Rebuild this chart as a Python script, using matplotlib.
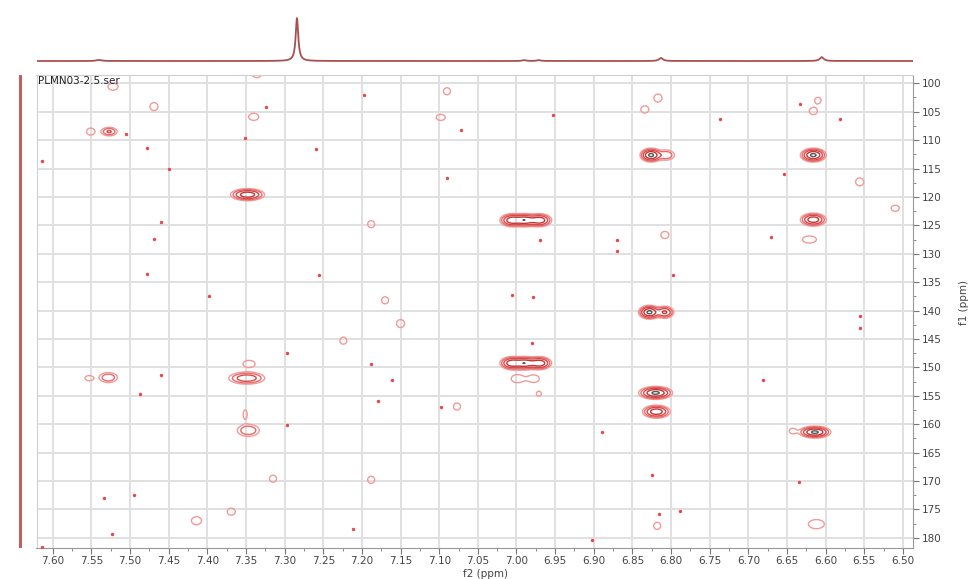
import numpy as np
import matplotlib
matplotlib.use("Agg")
import matplotlib.pyplot as plt
from matplotlib.ticker import MultipleLocator

# --- 2D cross peaks (f2 ppm, f1 ppm, outer half-width f2, outer half-width f1, relative intensity)
pk_f2 = [7.336, 7.522, 7.469, 7.340, 7.551, 7.527, 7.090, 7.098, 6.817, 6.834,
         6.610, 6.616, 6.826, 6.806, 6.616, 6.556, 6.510, 7.348, 7.006, 6.989,
         6.970, 6.616, 7.188, 6.808, 6.621, 7.170, 6.828, 6.808, 7.150, 7.224,
         7.346, 7.006, 6.989, 6.970, 6.999, 6.977, 7.553, 7.528, 7.349, 6.971,
         6.820, 6.819, 7.351, 7.347, 7.077, 6.614, 6.643, 7.315, 7.188, 7.369,
         7.414, 6.818, 6.612]
pk_f1 = [98.3, 100.6, 104.1, 105.9, 108.5, 108.5, 101.4, 106.0, 102.6, 104.6,
         103.0, 104.9, 112.64, 112.64, 112.64, 117.35, 122.0, 119.6, 124.1, 124.1,
         124.1, 124.0, 124.8, 126.7, 127.5, 138.2, 140.3, 140.3, 142.3, 145.3,
         149.4, 149.26, 149.26, 149.26, 152.0, 152.0, 151.9, 151.8, 151.9, 154.65,
         154.5, 157.8, 158.3, 161.1, 156.9, 161.4, 161.2, 169.6, 169.8, 175.4,
         177.0, 177.9, 177.6]
pk_w2 = [0.0065, 0.0065, 0.0052, 0.0065, 0.0052, 0.0103, 0.0045, 0.0058, 0.0052, 0.0052,
         0.0040, 0.0052, 0.0142, 0.0103, 0.0168, 0.0052, 0.0052, 0.0220, 0.0155, 0.0155,
         0.0155, 0.0168, 0.0045, 0.0052, 0.0090, 0.0045, 0.0142, 0.0116, 0.0052, 0.0045,
         0.0078, 0.0155, 0.0155, 0.0155, 0.0078, 0.0065, 0.0052, 0.0116, 0.0233, 0.0032,
         0.0220, 0.0181, 0.0026, 0.0142, 0.0045, 0.0207, 0.0040, 0.0045, 0.0045, 0.0052,
         0.0065, 0.0045, 0.0103]
pk_w1 = [0.70, 0.62, 0.70, 0.62, 0.62, 0.75, 0.62, 0.53, 0.70, 0.62,
         0.53, 0.62, 1.23, 0.88, 1.23, 0.70, 0.53, 1.06, 1.15, 1.15,
         1.15, 1.15, 0.62, 0.62, 0.62, 0.62, 1.23, 1.06, 0.70, 0.62,
         0.62, 1.15, 1.15, 1.15, 0.70, 0.62, 0.44, 0.88, 1.06, 0.44,
         1.15, 1.15, 0.80, 1.06, 0.62, 1.06, 0.44, 0.62, 0.62, 0.62,
         0.70, 0.62, 0.80]
pk_h = [1.5, 1.5, 1.5, 1.5, 1.5, 3.5, 1.5, 1.5, 1.5, 1.5,
        1.5, 1.5, 10, 3, 10, 1.5, 1.5, 8, 8, 8,
        8, 8, 1.5, 1.5, 1.5, 1.5, 10, 6, 1.5, 1.5,
        1.5, 8, 8, 8, 1.5, 1.5, 1.5, 3, 5, 1.5,
        10, 8, 1.5, 3, 1.5, 10, 1.5, 1.5, 1.5, 1.5,
        1.5, 1.5, 1.5]

# --- weak single-point responses
dot_f2 = [7.324, 7.505, 7.351, 7.478, 7.260, 7.614, 7.450, 7.460, 7.469, 7.197,
          7.072, 7.090, 6.953, 6.737, 6.581, 6.633, 6.654, 6.671, 6.870, 6.870,
          6.970, 7.478, 7.255, 6.797, 7.398, 7.006, 6.978, 6.556, 6.556, 7.297,
          6.980, 7.188, 7.460, 7.161, 6.681, 7.487, 7.179, 7.098, 7.297, 6.889,
          6.825, 6.635, 7.534, 7.495, 6.815, 6.788, 7.211, 7.523, 6.902, 7.614]
dot_f1 = [104.1, 108.9, 109.6, 111.4, 111.5, 113.7, 115.0, 124.4, 127.4, 102.1,
          108.3, 116.7, 105.6, 106.3, 106.2, 103.7, 115.9, 127.0, 127.5, 129.5,
          127.6, 133.6, 133.8, 133.8, 137.5, 137.3, 137.7, 140.9, 143.1, 147.5,
          145.8, 149.4, 151.4, 152.3, 152.2, 154.7, 156.0, 156.9, 160.1, 161.4,
          168.9, 170.2, 173.0, 172.4, 175.9, 175.3, 178.5, 179.4, 180.4, 181.7]

# --- 1D proton projection (top)
tr_shift = [7.540, 7.284, 6.990, 6.971, 6.813, 6.605]
tr_height = [0.025, 1.0, 0.02, 0.02, 0.07, 0.09]
tr_width = [0.004, 0.002, 0.003, 0.003, 0.003, 0.003]

X_LIM = (7.621, 6.487)
Y_LIM = (181.8, 98.54)

fig = plt.figure(figsize=(9.72, 5.79), dpi=100)
W, H = 972, 579
ax = fig.add_axes([36.5 / W, 1 - 548 / H, 876.5 / W, 473 / H])

# contour surface built from the peak list
gx = np.linspace(X_LIM[1], X_LIM[0], 1400)
gy = np.linspace(Y_LIM[1], Y_LIM[0], 800)
Z = np.zeros((len(gy), len(gx)))
for f2, f1, w2, w1, h in zip(pk_f2, pk_f1, pk_w2, pk_w1, pk_h):
    k = np.sqrt(2 * np.log(h))
    sx, sy = w2 / k, w1 / k
    ex = np.exp(-0.5 * ((gx - f2) / sx) ** 2)
    ey = np.exp(-0.5 * ((gy - f1) / sy) ** 2)
    Z += h * np.outer(ey, ex)

levels = [1, 1.8, 3.2, 5.6, 9.0]
colors = ["#f29a9a", "#e86a6a", "#d94848", "#c23535", "#555555"]
ax.contour(gx, gy, Z, levels=levels, colors=colors, linewidths=1.0)
ax.scatter(dot_f2, dot_f1, s=6, color="#e54848", lw=0, zorder=3)

ax.set_xlim(*X_LIM)
ax.set_ylim(*Y_LIM)
ax.xaxis.set_major_locator(MultipleLocator(0.05))
ax.xaxis.set_minor_locator(MultipleLocator(0.025))
ax.yaxis.set_major_locator(MultipleLocator(5))
ax.yaxis.set_minor_locator(MultipleLocator(2.5))
ax.xaxis.set_major_formatter(plt.FuncFormatter(lambda v, p: f"{v:.2f}"))
ax.yaxis.tick_right()
ax.grid(True, which="major", color="#e0e0e0", lw=1.4)
ax.set_axisbelow(True)
for s in ax.spines.values():
    s.set_color("#cfcfcf")
ax.spines["bottom"].set_color("#999999")
ax.spines["right"].set_color("#999999")
ax.tick_params(which="major", length=4, color="#777777", labelsize=7.5,
               labelcolor="#444444", pad=2)
ax.tick_params(which="minor", length=2, color="#777777")

ax.set_xlabel("f2 (ppm)", fontsize=7.5, color="#444444")
ax.xaxis.set_label_coords(0.512, -0.045)
ax.set_ylabel("f1 (ppm)", fontsize=7.5, color="#444444")
ax.yaxis.set_label_position("right")
ax.yaxis.set_label_coords(1.052, 0.52)
ax.text(0.002, 0.997, "PLMN03-2.5.ser", transform=ax.transAxes, va="top",
        ha="left", fontsize=7.5, color="#222222")

# top 1D trace
axt = fig.add_axes([36.5 / W, 1 - 66 / H, 876.5 / W, 54 / H])
tx = np.linspace(X_LIM[1], X_LIM[0], 4000)
ty = np.zeros_like(tx)
for c, hgt, g in zip(tr_shift, tr_height, tr_width):
    ty += hgt / (1 + ((tx - c) / g) ** 2)
axt.plot(tx, ty, color="#a85050", lw=1.3)
axt.set_xlim(*X_LIM)
axt.set_ylim(-0.116, 1.14)
axt.axis("off")

# left f1 projection (flat)
axl = fig.add_axes([15 / W, 1 - 548 / H, 10 / W, 473 / H])
axl.plot(np.zeros_like(gy), gy, color="#c06060", lw=2.2)
axl.set_xlim(-1, 1)
axl.set_ylim(*Y_LIM)
axl.axis("off")

fig.savefig("out.png", dpi=100)
